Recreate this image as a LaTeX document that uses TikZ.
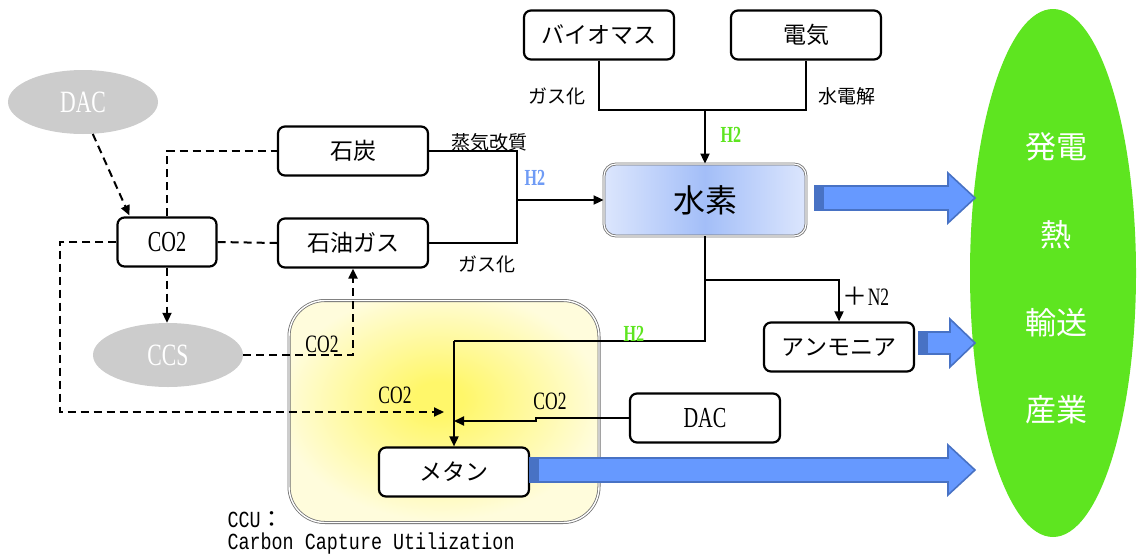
\documentclass[tikz,border=0pt]{standalone}
\usepackage{fontspec}
\newfontfamily\jp{Noto Sans CJK JP}
\newfontfamily\nserif[FakeStretch=0.7]{Liberation Serif}
\newfontfamily\nmono[FakeStretch=0.8]{Liberation Mono}
\usetikzlibrary{arrows.meta,calc,shapes.geometric}
\definecolor{lgray}{HTML}{CCCCCC}
\definecolor{usegreen}{HTML}{5EE520}
\definecolor{h2green}{HTML}{5EE520}
\definecolor{h2blue}{HTML}{6F9BF5}
\definecolor{blight}{HTML}{6699FF}
\definecolor{bdark}{HTML}{4872C4}
\definecolor{bordgray}{HTML}{707070}
\definecolor{ycen}{HTML}{FFF76A}
\definecolor{yout}{HTML}{FFFCDC}
\definecolor{bcen}{HTML}{A3BEF8}
\definecolor{bout}{HTML}{DCE6FD}
\pgfdeclareradialshading{yelrad}{\pgfpoint{-1bp}{3bp}}{color(0bp)=(ycen); color(4bp)=(ycen); color(26bp)=(yout); color(50bp)=(yout)}
\begin{document}
\begin{tikzpicture}[x=1pt,y=-1pt,
  box/.style={draw, line width=2.2pt, rounded corners=7pt, minimum width=150pt, minimum height=49pt, fill=white, inner sep=0pt},
  jptext/.style={font=\jp\fontsize{23}{23}\selectfont},
  latext/.style={font=\nserif\fontsize{29}{29}\selectfont},
  lab/.style={font=\jp\fontsize{19}{19}\selectfont},
  clab/.style={font=\nserif\fontsize{25}{25}\selectfont},
  h2lab/.style={font=\nserif\bfseries\fontsize{23}{23}\selectfont},
  ln/.style={line width=1.8pt},
  arr/.style={line width=1.8pt, -{Triangle[length=10pt,width=9pt]}},
  dsh/.style={line width=2pt, dash pattern=on 8pt off 5pt},
  dsharr/.style={dsh, -{Triangle[length=10pt,width=9pt]}},
  barrow/.style={fill=blight, draw=bdark, line width=1.6pt, line join=miter},
  gellipse/.style={ellipse, fill=lgray, text=white, minimum width=150pt, minimum height=64pt, inner sep=0pt, font=\nserif\fontsize{31}{31}\selectfont},
  usetext/.style={text=white, font=\jp\fontsize{31}{31}\selectfont}
]
\useasboundingbox (0,0) rectangle (1137,554);

% CCU region
\node[draw=bordgray, double=white, line width=0.8pt, double distance=1.4pt, rounded corners=36pt,
      minimum width=310pt, minimum height=222pt, shading=yelrad] (ccu) at (444,411.5) {};

% green use ellipse
\node[ellipse, fill=usegreen, minimum width=166pt, minimum height=528pt, inner sep=0pt] (use) at (1053,273) {};
\node[usetext] (u1) at (1056,147) {発電};
\node[usetext] (u2) at (1056,235) {熱};
\node[usetext] (u3) at (1056,323) {輸送};
\node[usetext] (u4) at (1056,410) {産業};

% boxes
\node[box, jptext] (bio) at (599,35) {バイオマス};
\node[box, jptext] (elec) at (806,35) {電気};
\node[box, jptext] (coal) at (353,151) {石炭};
\node[box, jptext] (oil) at (353,243) {石油ガス};
\node[box, latext, minimum width=99pt] (co2) at (167,242) {CO2};
\node[box, draw=bordgray, double=white, line width=0.8pt, double distance=1.2pt, rounded corners=12pt,
      minimum width=202pt, minimum height=72pt, left color=bout, right color=bout, middle color=bcen,
      font=\jp\fontsize{32}{32}\selectfont] (sui) at (705,200) {水素};
\node[box, jptext] (nh3) at (839,347) {アンモニア};
\node[box, latext] (dac2) at (705,418) {DAC};
\node[box, jptext] (meth) at (454,472) {メタン};

% grey ellipses
\node[gellipse] (dac1) at (83,102) {DAC};
\node[gellipse] (ccs) at (168,355) {CCS};

% H2 from biomass / electricity
\coordinate (j1) at (705,110);
\draw[ln] (bio.south) |- (j1) -| (elec.south);
\draw[arr] (j1) -- (sui.north);
\node[lab] (l1) at (557,96) {ガス化};
\node[lab] (l2) at (847,96) {水電解};
\node[h2lab, text=h2green] (l3) at (731,135) {H2};

% H2 from coal / oil gas
\coordinate (j2) at (517,200);
\draw[ln] (coal.east) -| (j2) |- (oil.east);
\draw[arr] (j2) -- (sui.west);
\node[lab] (l4) at (489,142) {蒸気改質};
\node[lab] (l5) at (487,264) {ガス化};
\node[h2lab, text=h2blue] (l6) at (535,178) {H2};

% H2 to ammonia and methane
\coordinate (j3) at (705,280);
\coordinate (j4) at (705,341);
\coordinate (j5) at (454,341);
\draw[ln] (sui.south) -- (j4) -- (j5);
\draw[arr] (j5) -- (meth.north);
\draw[arr] (j3) -| (nh3.north);
\node[clab] (l7) at (866,296) {{\jp ＋}N2};
\node[h2lab, text=h2green] (l8) at (634,334) {H2};

% DAC to methane
\coordinate (j6) at (454,421);
\draw[arr] (dac2.west) -- ++(-93,0) -- ++(0,3) -- (j6);
\node[clab] (l9) at (550,401) {CO2};

% dashed CO2 connectors
\draw[dsh] (co2.north) |- (coal.west);
\draw[dsh] (co2.east) -- (oil.west);
\draw[dsharr] (dac1.287) -- ($(co2.north west)+(13,-1)$);
\draw[dsharr] (co2.south) -- (co2.south |- ccs.north);
\draw[dsharr] (ccs.east) -| (oil.south);
\node[clab] (l10) at (322,344) {CO2};
\coordinate (k1) at (60,412);
\coordinate (k2) at (444,412);
\draw[dsharr] (co2.west) -| (k1) -- (k2);
\node[clab] (l11) at (395,395) {CO2};

% blue arrows
\draw[barrow] (815,186) -- (948,186) -- (948,173) -- (975,198) -- (948,223) -- (948,210) -- (815,210) -- cycle;
\fill[bdark] (815,186) rectangle (824,210);
\draw[barrow] (919,332) -- (950,332) -- (950,319) -- (975,343) -- (950,367) -- (950,354) -- (919,354) -- cycle;
\fill[bdark] (919,332) rectangle (928,354);
\draw[barrow] (530,458) -- (948,458) -- (948,445) -- (975,470) -- (948,495) -- (948,482) -- (530,482) -- cycle;
\fill[bdark] (530,458) rectangle (539,482);

% CCU caption
\node[anchor=west, font=\nmono\fontsize{23}{23}\selectfont] (c1) at (224,520) {CCU{\jp ：}};
\node[anchor=west, font=\nmono\fontsize{23}{23}\selectfont] (c2) at (224,544) {Carbon Capture Utilization};
\end{tikzpicture}
\end{document}
